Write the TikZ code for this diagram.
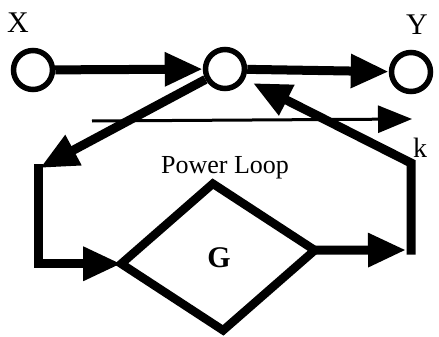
\documentclass[tikz,border=0pt]{standalone}
\usepackage{fontspec}
\setmainfont{Liberation Serif}
\usetikzlibrary{arrows.meta,shapes.geometric}
\begin{document}
\begin{tikzpicture}[x=1pt,y=-1pt,
  port/.style={circle,draw,line width=5.5pt,minimum size=39pt,inner sep=0pt},
  bigarrow/.style={line width=9pt,line join=miter,-{Triangle[length=38pt,width=32pt]}},
  thinarrow/.style={line width=3pt,-{Triangle[length=34pt,width=27pt]}},
  lbl/.style={inner sep=0pt,anchor=base,font=\fontsize{30}{31}\selectfont},
  block/.style={diamond,draw,line width=8.5pt,line join=miter,minimum width=194pt,minimum height=147pt,inner sep=0pt,outer sep=0pt,rotate=4}]
\useasboundingbox (0,0) rectangle (439,337);
\fill[white] (0,0) rectangle (439,337);
% nodes
\node[port] (X) at (33,70) {};
\node[port] (M) at (225,69) {};
\node[port] (Y) at (411,72) {};
\node[block] (D) at (218,257) {};
\node[lbl,font=\fontsize{30}{31}\selectfont\bfseries] (G) at (219,267) {G};
\node[lbl] (xl) at (18,33) {X};
\node[lbl] (yl) at (417,35) {Y};
\node[lbl,font=\fontsize{28}{29}\selectfont] (kl) at (420,157) {k};
\node[lbl,font=\fontsize{26}{27}\selectfont] (pl) at (225,173) {Power Loop};
% corner coordinates
\coordinate (c1) at (40,168);
\coordinate (c1b) at (38,164);
\coordinate (c3) at (406,250);
\coordinate (c4) at (411,254.5);
\coordinate (c5) at (411,163);
\coordinate (t1) at (92,121);
\coordinate (t2) at (412,119);
% connectors
\draw[bigarrow] (X) -- (M);
\draw[bigarrow] (M) -- (Y);
\draw[bigarrow] (M) -- (c1);
\draw[bigarrow] (c1b) -- (c1b |- D.west) -- (D.west);
\draw[bigarrow] (D.east) -- (c3);
\draw[bigarrow,shorten >=9pt] (c4) -- (c5) -- (M);
\draw[thinarrow] (t1) -- (t2);
\end{tikzpicture}
\end{document}
